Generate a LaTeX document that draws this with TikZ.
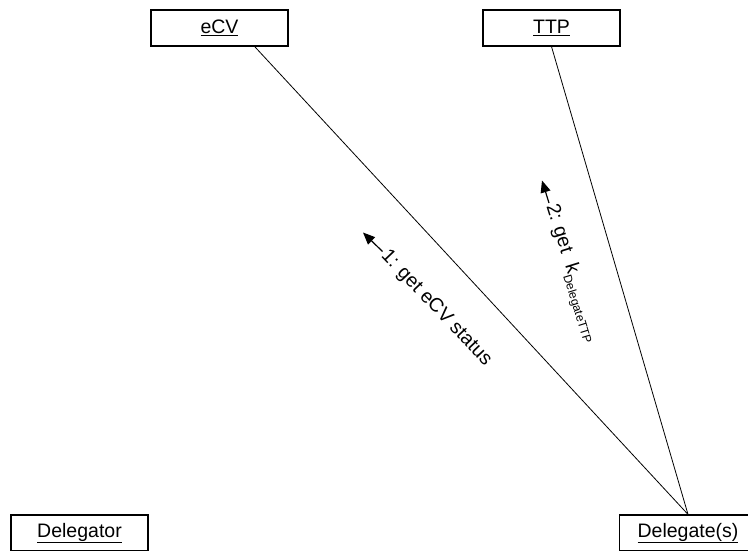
\documentclass[tikz,border=0pt]{standalone}
\usepackage{fontspec}
\setmainfont{Liberation Sans}
\usetikzlibrary{arrows.meta}
\begin{document}
\begin{tikzpicture}[x=1bp,y=-1bp,
  font=\fontsize{19.5bp}{23bp}\selectfont,
  obj/.style={draw,line width=1.2bp,minimum width=137bp,minimum height=36bp,inner sep=0pt},
  link/.style={line width=0.8bp},
  msg/.style={line width=1.2bp,-{Triangle[length=12bp,width=10bp]}},
  msglabel/.style={anchor=west,inner sep=2bp}]
\useasboundingbox (0,0) rectangle (748,551);
% objects
\node[obj] (ecv) at (219.5,28) {\underline{eCV}};
\node[obj] (ttp) at (551.5,28) {\underline{TTP}};
\node[obj] (dgr) at (79.5,533) {\underline{Delegator}};
\node[obj] (dge) at (688,533) {\underline{Delegate(s)}};
% links
\draw[link] ([xshift=35.2bp]ecv.south) -- (dge.north);
\draw[link] (ttp.south) -- (dge.north);
% message 1
\coordinate (t1) at (382.5,251.5);
\coordinate (h1) at (363,232.5);
\draw[msg] (t1) -- (h1);
\node[msglabel,rotate=-46.5] (m1) at (t1) {1: get eCV status};
% message 2
\coordinate (t2) at (549,203);
\coordinate (h2) at (542,180.5);
\draw[msg] (t2) -- (h2);
\node[msglabel,rotate=-72.7] (m2) at (t2) {2: get\hspace{12bp}k{\fontsize{12bp}{14bp}\selectfont\raisebox{-5bp}{DelegateTTP}}};
\end{tikzpicture}
\end{document}
